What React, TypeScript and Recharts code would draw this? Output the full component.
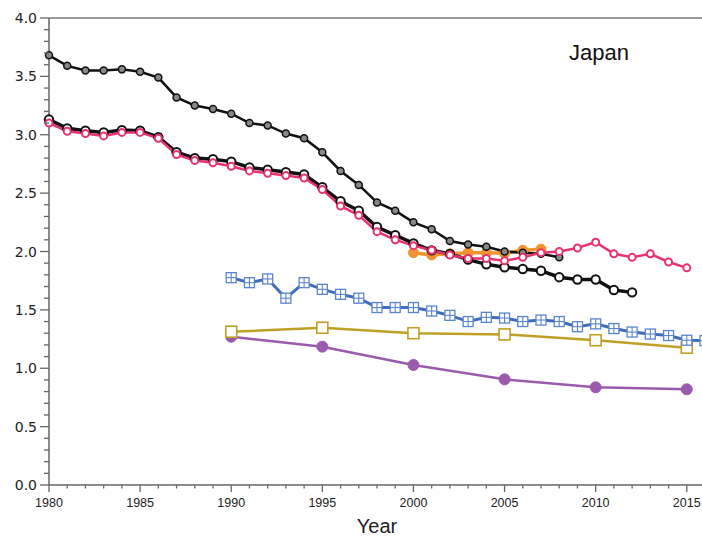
import React from 'react'
import { LineChart, Line, XAxis, YAxis, ReferenceLine } from 'recharts'

// year ranges for each series
const upperYears = [1980, 1981, 1982, 1983, 1984, 1985, 1986, 1987, 1988, 1989, 1990, 1991, 1992, 1993, 1994, 1995, 1996, 1997, 1998, 1999, 2000, 2001, 2002, 2003, 2004, 2005, 2006, 2007, 2008]
const upperValues = [3.68, 3.59, 3.55, 3.55, 3.56, 3.54, 3.49, 3.32, 3.25, 3.22, 3.18, 3.10, 3.08, 3.01, 2.97, 2.85, 2.69, 2.57, 2.42, 2.35, 2.25, 2.19, 2.09, 2.06, 2.04, 2.00, 1.99, 1.98, 1.95]

const lowerYears = [1980, 1981, 1982, 1983, 1984, 1985, 1986, 1987, 1988, 1989, 1990, 1991, 1992, 1993, 1994, 1995, 1996, 1997, 1998, 1999, 2000, 2001, 2002, 2003, 2004, 2005, 2006, 2007, 2008, 2009, 2010, 2011, 2012]
const lowerValues = [3.13, 3.055, 3.035, 3.02, 3.04, 3.035, 2.98, 2.85, 2.80, 2.79, 2.77, 2.72, 2.70, 2.68, 2.66, 2.55, 2.43, 2.35, 2.21, 2.14, 2.07, 2.01, 1.98, 1.93, 1.89, 1.865, 1.85, 1.835, 1.78, 1.76, 1.76, 1.67, 1.65]

const pinkYears = [1980, 1981, 1982, 1983, 1984, 1985, 1986, 1987, 1988, 1989, 1990, 1991, 1992, 1993, 1994, 1995, 1996, 1997, 1998, 1999, 2000, 2001, 2002, 2003, 2004, 2005, 2006, 2007, 2008, 2009, 2010, 2011, 2012, 2013, 2014, 2015]
const pinkValues = [3.10, 3.03, 3.01, 2.99, 3.02, 3.02, 2.97, 2.83, 2.78, 2.76, 2.73, 2.69, 2.67, 2.65, 2.63, 2.53, 2.39, 2.31, 2.17, 2.10, 2.05, 2.01, 1.97, 1.94, 1.94, 1.92, 1.95, 1.99, 2.00, 2.03, 2.08, 1.98, 1.95, 1.98, 1.91, 1.86]

const orangeYears = [2000, 2001, 2002, 2003, 2004, 2005, 2006, 2007]
const orangeValues = [1.99, 1.97, 1.98, 1.99, 1.99, 1.985, 2.01, 2.02]

const blueYears = [1990, 1991, 1992, 1993, 1994, 1995, 1996, 1997, 1998, 1999, 2000, 2001, 2002, 2003, 2004, 2005, 2006, 2007, 2008, 2009, 2010, 2011, 2012, 2013, 2014, 2015, 2016]
const blueValues = [1.776, 1.733, 1.765, 1.60, 1.733, 1.676, 1.633, 1.60, 1.52, 1.52, 1.52, 1.49, 1.453, 1.40, 1.436, 1.43, 1.40, 1.413, 1.40, 1.356, 1.38, 1.34, 1.31, 1.293, 1.28, 1.24, 1.236]

const censusYears = [1990, 1995, 2000, 2005, 2010, 2015]
const goldValues = [1.313, 1.347, 1.30, 1.29, 1.24, 1.176]
const purpleValues = [1.27, 1.185, 1.028, 0.905, 0.837, 0.82]

const xTicks = [1980, 1981, 1982, 1983, 1984, 1985, 1986, 1987, 1988, 1989, 1990, 1991, 1992, 1993, 1994, 1995, 1996, 1997, 1998, 1999, 2000, 2001, 2002, 2003, 2004, 2005, 2006, 2007, 2008, 2009, 2010, 2011, 2012, 2013, 2014, 2015, 2016]
const yTicks = [0, 0.1, 0.2, 0.3, 0.4, 0.5, 0.6, 0.7, 0.8, 0.9, 1.0, 1.1, 1.2, 1.3, 1.4, 1.5, 1.6, 1.7, 1.8, 1.9, 2.0, 2.1, 2.2, 2.3, 2.4, 2.5, 2.6, 2.7, 2.8, 2.9, 3.0, 3.1, 3.2, 3.3, 3.4, 3.5, 3.6, 3.7, 3.8, 3.9, 4.0]

const zip = (years: number[], values: number[]) => years.map((year, i) => ({ year, v: values[i] }))

const AXIS = '#666'
const PINK = '#e8336f'
const ORANGE = '#f29332'
const BLUE = '#3d6ebe'
const GOLD = '#bf9f24'
const PURPLE = '#9b5bad'

function XTick(props: any) {
  const { x, y, payload } = props
  const major = payload.value % 5 === 0
  return (
    <g>
      <line x1={x} x2={x} y1={y} y2={y + (major ? 7 : 3.5)} stroke={AXIS} strokeWidth={1.3} />
      {major && payload.value <= 2015 && (
        <text x={x} y={y + 18} textAnchor="middle" dominantBaseline="central" fontSize={12.5} fill="#222" fontFamily="Liberation Sans, sans-serif">
          {payload.value}
        </text>
      )}
    </g>
  )
}

function YTick(props: any) {
  const { x, y, payload } = props
  const v = payload.value
  const major = Math.abs(v * 2 - Math.round(v * 2)) < 1e-6
  return (
    <g>
      <line x1={x - (major ? 9 : 5)} x2={x} y1={y} y2={y} stroke={AXIS} strokeWidth={1.3} />
      {major && (
        <text x={x - 12} y={y} textAnchor="end" dominantBaseline="central" fontSize={14} fill="#222" fontFamily="DejaVu Sans, sans-serif">
          {v.toFixed(1)}
        </text>
      )}
    </g>
  )
}

function GridSquare(props: any) {
  const { cx, cy } = props
  if (cx == null || cy == null) return <g />
  const s = 5
  return (
    <g>
      <rect x={cx - s} y={cy - s} width={s * 2} height={s * 2} fill="#fff" stroke="#5a85cf" strokeWidth={1.3} />
      <line x1={cx} x2={cx} y1={cy - s} y2={cy + s} stroke="#5a85cf" strokeWidth={1.1} />
      <line x1={cx - s} x2={cx + s} y1={cy} y2={cy} stroke="#5a85cf" strokeWidth={1.1} />
    </g>
  )
}

function OpenSquare(props: any) {
  const { cx, cy } = props
  if (cx == null || cy == null) return <g />
  return <rect x={cx - 5.5} y={cy - 5.5} width={11} height={11} fill="#fff" stroke={GOLD} strokeWidth={1.6} />
}

export default function App() {
  return (
    <div style={{ position: 'absolute', left: 0, top: 0, width: 702, height: 539, overflow: 'hidden', background: '#fff' }}>
      <LineChart width={712} height={539} margin={{ top: 18, right: 7, bottom: 0, left: 0 }}>
        <XAxis
          type="number"
          dataKey="year"
          domain={[1980, 2016]}
          ticks={xTicks}
          interval={0}
          tickLine={false}
          tickSize={0}
          tickMargin={0}
          tick={<XTick />}
          axisLine={{ stroke: AXIS, strokeWidth: 1.5 }}
          height={54}
          allowDuplicatedCategory={false}
          label={{ value: 'Year', position: 'insideBottom', offset: 6, fontSize: 20, fill: '#222', fontFamily: 'Liberation Sans, sans-serif' }}
        />
        <YAxis
          type="number"
          domain={[0, 4]}
          ticks={yTicks}
          interval={0}
          tickLine={false}
          tickSize={0}
          tickMargin={0}
          tick={<YTick />}
          axisLine={{ stroke: AXIS, strokeWidth: 1.5 }}
          width={49}
        />
        <ReferenceLine y={4} stroke="#777" strokeWidth={1.5} />

        <Line data={zip(censusYears, purpleValues)} dataKey="v" stroke={PURPLE} strokeWidth={2.5} isAnimationActive={false}
          dot={{ r: 5.5, fill: PURPLE, stroke: PURPLE, strokeWidth: 1 }} />
        <Line data={zip(censusYears, goldValues)} dataKey="v" stroke={GOLD} strokeWidth={2.5} isAnimationActive={false}
          dot={<OpenSquare />} />
        <Line data={zip(blueYears, blueValues)} dataKey="v" stroke={BLUE} strokeWidth={3} isAnimationActive={false}
          dot={<GridSquare />} />
        <Line data={zip(orangeYears, orangeValues)} dataKey="v" stroke={ORANGE} strokeWidth={3.5} isAnimationActive={false}
          dot={{ r: 5, fill: ORANGE, stroke: ORANGE, strokeWidth: 1 }} />
        <Line data={zip(upperYears, upperValues)} dataKey="v" stroke="#111" strokeWidth={2.5} isAnimationActive={false}
          dot={{ r: 3.5, fill: '#888', stroke: '#111', strokeWidth: 1.5 }} />
        <Line data={zip(lowerYears, lowerValues)} dataKey="v" stroke="#111" strokeWidth={3.5} isAnimationActive={false}
          dot={{ r: 4.2, fill: '#fff', stroke: '#111', strokeWidth: 2 }} />
        <Line data={zip(pinkYears, pinkValues)} dataKey="v" stroke={PINK} strokeWidth={2.5} isAnimationActive={false}
          dot={{ r: 3.5, fill: '#fff', stroke: PINK, strokeWidth: 2 }} />
      </LineChart>
      <div style={{ position: 'absolute', left: 569, top: 40, fontSize: 22, fontFamily: 'Liberation Sans, sans-serif', color: '#111', lineHeight: '26px' }}>
        Japan
      </div>
    </div>
  )
}
